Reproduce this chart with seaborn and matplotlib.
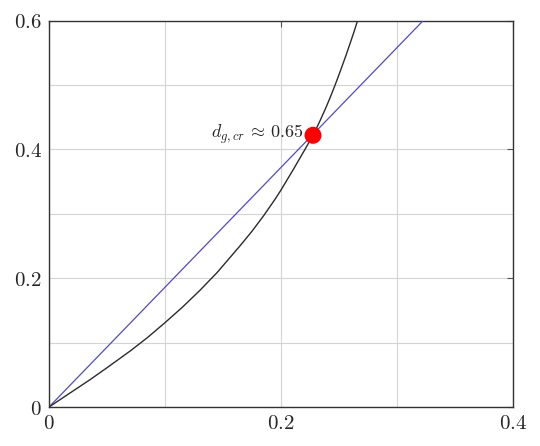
import matplotlib
matplotlib.use("Agg")
import matplotlib.pyplot as plt
import seaborn as sns
import numpy as np
import pandas as pd
from matplotlib.ticker import MultipleLocator, FuncFormatter

# data
curve_x = [0.0, 0.02, 0.035, 0.05, 0.07, 0.085, 0.1, 0.115, 0.13, 0.145, 0.165, 0.175,
           0.185, 0.195, 0.2, 0.21, 0.22, 0.2276, 0.233, 0.238, 0.242, 0.246, 0.251,
           0.256, 0.26, 0.263, 0.266]
curve_y = [0.0, 0.024, 0.042, 0.061, 0.087, 0.108, 0.131, 0.155, 0.181, 0.209, 0.251, 0.273,
           0.297, 0.323, 0.337, 0.367, 0.398, 0.422, 0.442, 0.462, 0.479, 0.497, 0.521,
           0.546, 0.567, 0.583, 0.6]
line_x = [0.0, 0.3225]
line_y = [0.0, 0.6]
crit_x = [0.2276]
crit_y = [0.422]
crit_label = r"$d_{g,cr}\,\approx\,0.65$"

sns.set_style("white")
plt.rcParams["mathtext.fontset"] = "cm"
plt.rcParams["font.family"] = ["DejaVu Serif"]

fig = plt.figure(figsize=(5.4, 4.46), dpi=100)
ax = fig.add_axes([0.0907, 0.0874, 0.8593, 0.8662])

curve_df = pd.DataFrame({"x": curve_x, "y": curve_y})
line_df = pd.DataFrame({"x": line_x, "y": line_y})
crit_df = pd.DataFrame({"x": crit_x, "y": crit_y})

sns.lineplot(data=line_df, x="x", y="y", ax=ax, color="#4d4dc4", lw=0.9, sort=False, zorder=3)
sns.lineplot(data=curve_df, x="x", y="y", ax=ax, color="#2b2b2b", lw=1.0, sort=False, zorder=3)
sns.scatterplot(data=crit_df, x="x", y="y", ax=ax, color="#ff0000", s=150, edgecolor="none", zorder=5)
ax.annotate(crit_label, (crit_x[0], crit_y[0]), xytext=(-7, 1), textcoords="offset points",
            ha="right", va="center", fontsize=13, zorder=6)

ax.set_xlim(0, 0.4)
ax.set_ylim(0, 0.6)
ax.xaxis.set_major_locator(MultipleLocator(0.2))
ax.xaxis.set_minor_locator(MultipleLocator(0.1))
ax.yaxis.set_major_locator(MultipleLocator(0.2))
ax.yaxis.set_minor_locator(MultipleLocator(0.1))
fmt = FuncFormatter(lambda v, p: "$0$" if abs(v) < 1e-9 else "$%.1f$" % v)
ax.xaxis.set_major_formatter(fmt)
ax.yaxis.set_major_formatter(fmt)
ax.grid(True, which="both", color="#d4d4d4", lw=0.8, zorder=0)
ax.set_axisbelow(True)
ax.tick_params(which="major", direction="in", length=4, width=0.8, color="#555555",
               labelsize=15, top=True, right=True, pad=5)
ax.tick_params(which="minor", direction="in", length=0)
for s in ax.spines.values():
    s.set_color("#333333")
    s.set_linewidth(1.0)
    s.set_visible(True)
ax.set_xlabel("")
ax.set_ylabel("")

fig.savefig("out.png", dpi=100)
